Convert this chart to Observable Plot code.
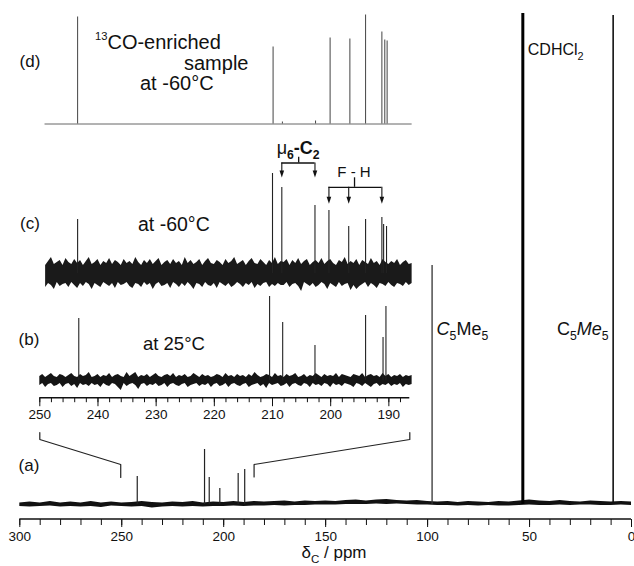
<!DOCTYPE html>
<html><head><meta charset="utf-8">
<script src="https://cdn.jsdelivr.net/npm/d3@7"></script>
<script src="https://cdn.jsdelivr.net/npm/@observablehq/plot@0.6"></script>
<style>
html,body{margin:0;padding:0;background:#fff;overflow:hidden}
#chart{position:relative;width:634px;height:566px;font-family:"Liberation Sans",Arial,Helvetica,sans-serif;color:#111}
#chart svg{position:absolute;left:0;top:0}
</style></head><body><div id="chart"></div>
<script>
// ---------- tick labels ----------
const mainTicks = [300, 250, 200, 150, 100, 50, 0];
const mainMinorTicks = [300,290,280,270,260,250,240,230,220,210,200,190,180,170,160,150,140,130,120,110,100,90,80,70,60,50,40,30,20,10,0];
const insetTicks = [250, 240, 230, 220, 210, 200, 190];
const insetMinorTicks = [250,248,246,244,242,240,238,236,234,232,230,228,226,224,222,220,218,216,214,212,210,208,206,204,202,200,198,196,194,192,190,188];

// ---------- (a) full spectrum ----------
const aPeakPpm    = [242.4, 209.4, 207.1, 201.9, 192.9, 189.7, 97.8, 53.3, 9.0];
const aPeakHeight = [28, 55, 27, 16, 31, 35, 239, 491, 489];
const aPeakKind   = ["CO","CO","CO","CO","CO","CO","ring","solvent","methyl"];
const aNoisePpm = [300,295,290,285,280,275,270,265,260,255,250,245,240,235,230,225,220,215,210,205,200,195,190,185,180,175,170,165,160,155,150,145,140,135,130,125,120,115,110,105,100,95,90,85,80,75,70,65,60,55,50,45,40,35,30,25,20,15,10,5,0];
const aNoiseHi = [1.5,2.5,1.5,3,1.5,2.5,1.5,3,1.5,2.5, 1.5,2,3,2,1.5,2.5,2,3,1.5,2.5, 2,3,2,3,2.5,3,3.5,2.5,3.5,3, 3.5,3,4,4.5,3.5,4.5,5,4,3.5,4, 3,2.5,3,2,3,2.5,2,3,2.5,3.5, 4.5,3.5,3,4,3,2.5,3.5,3,2.5,3,2.5];
const aNoiseLo = [-2,-2.5,-2,-1.5,-2.5,-2,-2.5,-2,-3,-1.5, -2,-2.5,-2,-3.5,-2.5,-2,-2.5,-2,-2.5,-2, -2,-1.5,-2,-1.5,-1.5,-1,-1.5,-1,-1,-0.5, -0.5,-0.5,0,0,0,0.5,0,0.5,0,-0.5, -0.5,-1,-1,-1.5,-1,-1.5,-1,-1.5,-1.5,-1, -0.5,-1,-1,-0.5,-1,-0.5,-0.5,-1,-1,-0.5,-1];
const zoomRangeInA = [250.5, 185.1];   // ends of the expanded region marked on (a)

// ---------- expanded spectra (b), (c), (d) ----------
const insetNoisePpm = [250,249.5,249,248.5,248,247.5,247,246.5,246,245.5,245,244.5,244,243.5,243,242.5,242,241.5,241,240.5,240,239.5,239,238.5,238,237.5,237,236.5,236,235.5,235,234.5,234,233.5,233,232.5,232,231.5,231,230.5,230,229.5,229,228.5,228,227.5,227,226.5,226,225.5,225,224.5,224,223.5,223,222.5,222,221.5,221,220.5,220,219.5,219,218.5,218,217.5,217,216.5,216,215.5,215,214.5,214,213.5,213,212.5,212,211.5,211,210.5,210,209.5,209,208.5,208,207.5,207,206.5,206,205.5,205,204.5,204,203.5,203,202.5,202,201.5,201,200.5,200,199.5,199,198.5,198,197.5,197,196.5,196,195.5,195,194.5,194,193.5,193,192.5,192,191.5,191,190.5,190,189.5,189,188.5,188,187.5,187,186.5,186];

const bPeakPpm    = [243.3, 210.5, 208.25, 202.7, 194.0, 191.0, 190.5];
const bPeakHeight = [62, 84, 58, 35, 65, 43, 74];
const bNoiseHi = [4,6,3,5,7,4,3,6,5,3, 5,7,4,3,6,4,5,8,3,4, 6,3,5,4,7,3,5,6,4,3, 8,4,6,8,3,5,4,6,3,5, 7,4,3,5,6,4,7,3,5,4, 6,3,4,7,5,3,6,4,5,3, 4,6,5,3,7,4,5,3,6,4, 5,3,6,4,8,5,3,4,6,5, 3,7,4,5,3,6,4,5,7,3, 4,6,3,5,4,7,5,3,6,4, 5,4,7,3,6,5,4,3,6,5, 4,7,3,5,6,4,5,3,7,4, 6,3,5,4,6,3,5,4,5];
const bNoiseLo = [-5,-3,-7,-4,-3,-6,-5,-3,-7,-4, -3,-6,-4,-8,-3,-5,-4,-6,-3,-5, -4,-7,-3,-5,-6,-3,-4,-7,-10,-3, -6,-4,-3,-5,-9,-4,-3,-6,-4,-5, -3,-6,-5,-3,-7,-4,-3,-5,-6,-4, -3,-7,-5,-4,-3,-6,-4,-5,-3,-7, -4,-3,-6,-5,-3,-7,-4,-3,-5,-6, -4,-3,-7,-5,-4,-3,-6,-4,-8,-3, -5,-4,-3,-6,-5,-3,-7,-4,-3,-5, -6,-3,-4,-7,-3,-5,-4,-6,-3,-4, -7,-3,-5,-4,-6,-3,-4,-5,-7,-3, -4,-6,-3,-5,-7,-4,-3,-6,-4,-5, -3,-6,-4,-5,-3,-7,-4,-5,-4];

const cPeakPpm    = [243.5, 210.0, 208.4, 202.7, 200.3, 196.9, 194.0, 191.2, 190.9, 190.4];
const cPeakHeight = [54, 100, 86, 68, 63, 47, 54, 56, 49, 47];
const cNoiseHi = [10,14,8,12,16,9,11,13,8,15, 11,9,14,10,13,8,12,16,9,11, 14,8,12,10,15,9,13,11,8,14, 10,12,9,16,11,8,13,10,14,9, 12,15,8,11,13,9,14,10,12,8, 16,10,13,9,11,14,8,12,15,10, 9,13,11,8,14,10,12,16,9,11, 13,8,12,15,10,9,14,11,8,13, 10,16,9,12,11,14,8,13,10,15, 9,12,14,8,11,13,10,15,9,12, 14,10,8,13,11,16,9,12,10,14, 8,13,11,9,15,10,12,8,14,11, 9,12,10,14,8,11,13,9,10];
const cNoiseLo = [-11,-9,-14,-10,-12,-16,-9,-13,-11,-10, -14,-9,-12,-15,-10,-13,-9,-11,-16,-10, -12,-14,-9,-11,-13,-10,-15,-9,-12,-11, -9,-13,-15,-10,-11,-14,-9,-12,-10,-16, -11,-9,-13,-12,-10,-15,-9,-11,-14,-10, -13,-9,-12,-16,-10,-11,-14,-9,-12,-13, -10,-15,-9,-11,-13,-10,-14,-12,-9,-11, -14,-10,-12,-9,-15,-11,-13,-10,-9,-14, -11,-13,-10,-12,-12,-9,-14,-11,-10,-13, -18,-9,-11,-13,-10,-14,-12,-9,-11,-16, -10,-12,-14,-9,-13,-11,-10,-17,-12,-16, -13,-11,-9,-14,-10,-12,-15,-10,-11,-13, -9,-12,-14,-10,-11,-13,-9,-12,-10];
const muArrowPpm = [208.4, 202.7];          // μ6-C2 assignment
const muStemPpm  = [205.5];
const fhArrowPpm = [200.3, 196.9, 191.2];   // F - H assignment
const fhStemPpm  = [195.9];

const dPeakPpm    = [243.5, 209.9, 208.3, 202.6, 200.1, 196.7, 194.0, 191.2, 190.7, 190.3];
const dPeakHeight = [107, 77, 2, 3, 86, 85, 109, 92, 84, 83];
const dTraceRange = [249.1, 186.0];

// ---------- layout ----------
const W = 634, H = 566;
const mainXRange = [19.3, 631], mainAxisY = 519, aBase = 504;
const insetDomain = [250, 186.4], insetXRange = [39.3, 409.3], insetAxisY = 397.7;
const bBase = 380, cBase = 273, dBase = 123.5;
const font = '"Liberation Sans", Arial, Helvetica, sans-serif';
const svgStyle = {background: "transparent", overflow: "visible", fontFamily: font};

const xMain = Plot.scale({x: {domain: [300, 0], range: mainXRange}});
const xIns  = Plot.scale({x: {domain: insetDomain, range: insetXRange}});

const rows = (ppm, a, b) => ppm.map((p, i) => ({ppm: p, lo: a[i], hi: b[i]}));
const peaks = (ppm, h) => ppm.map((p, i) => ({ppm: p, h: h[i]}));

const chart = document.getElementById("chart");

// ---- main plot (a) ----
const aPeaks = aPeakPpm.map((p, i) => ({ppm: p, h: aPeakHeight[i], kind: aPeakKind[i]}));
const leftBracket = [
  {ppm: xMain.invert(xIns.apply(insetDomain[0])), h: 72},
  {ppm: xMain.invert(xIns.apply(insetDomain[0])), h: 65},
  {ppm: zoomRangeInA[0], h: 40},
  {ppm: zoomRangeInA[0], h: 27}
];
const rightBracket = [
  {ppm: xMain.invert(xIns.apply(insetDomain[1])), h: 72},
  {ppm: xMain.invert(xIns.apply(insetDomain[1])), h: 65},
  {ppm: zoomRangeInA[1], h: 40},
  {ppm: zoomRangeInA[1], h: 27.5}
];
const mainPlot = Plot.plot({
  width: W, height: H,
  marginLeft: mainXRange[0], marginRight: W - mainXRange[1], marginTop: 0, marginBottom: H - mainAxisY,
  x: {domain: [300, 0], range: mainXRange},
  y: {domain: [0, 500], range: [aBase, aBase - 500], axis: null},
  style: svgStyle,
  marks: [
    Plot.areaY(rows(aNoisePpm, aNoiseLo, aNoiseHi), {x: "ppm", y1: "lo", y2: "hi", fill: "#111"}),
    Plot.ruleX(aPeaks.filter(d => d.kind === "CO"), {x: "ppm", y1: 0, y2: "h", stroke: "#222", strokeWidth: 1.2}),
    Plot.ruleX(aPeaks.filter(d => d.kind === "ring"), {x: "ppm", y1: 0, y2: "h", stroke: "#333", strokeWidth: 1.3}),
    Plot.ruleX(aPeaks.filter(d => d.kind === "solvent"), {x: "ppm", y1: 0, y2: "h", stroke: "#000", strokeWidth: 3}),
    Plot.ruleX(aPeaks.filter(d => d.kind === "methyl"), {x: "ppm", y1: 0, y2: "h", stroke: "#111", strokeWidth: 1.6}),
    Plot.line(leftBracket, {x: "ppm", y: "h", stroke: "#222", strokeWidth: 1.2}),
    Plot.line(rightBracket, {x: "ppm", y: "h", stroke: "#222", strokeWidth: 1.2}),
    Plot.axisX({ticks: mainMinorTicks, tickSize: 6, tickFormat: () => "", label: null}),
    Plot.axisX({ticks: mainTicks, tickSize: 8, tickPadding: 4, fontSize: 13.5, label: null})
  ]
});
chart.appendChild(mainPlot);

function insetPlot(base, marks, withAxis) {
  return Plot.plot({
    width: W, height: H,
    marginLeft: insetXRange[0], marginRight: W - insetXRange[1], marginTop: 0, marginBottom: H - insetAxisY,
    x: withAxis ? {domain: insetDomain, range: insetXRange} : {domain: insetDomain, range: insetXRange, axis: null},
    y: {domain: [0, 200], range: [base, base - 200], axis: null},
    style: svgStyle,
    marks
  });
}

// ---- (b) ----
chart.appendChild(insetPlot(bBase, [
  Plot.areaY(rows(insetNoisePpm, bNoiseLo, bNoiseHi), {x: "ppm", y1: "lo", y2: "hi", fill: "#151515"}),
  Plot.ruleX(peaks(bPeakPpm, bPeakHeight), {x: "ppm", y1: 0, y2: "h", stroke: "#222", strokeWidth: 1.1}),
  Plot.axisX({ticks: insetMinorTicks, tickSize: 4.5, tickFormat: () => "", label: null}),
  Plot.axisX({ticks: insetTicks, tickSize: 8.5, tickPadding: 3, fontSize: 13.5, label: null})
], true));

// ---- (c) ----
const arrowHead = {draw(ctx) { ctx.moveTo(0, 0); ctx.lineTo(-2.3, -7); ctx.lineTo(2.3, -7); ctx.closePath(); }};
const muLevel = 110.5, muTop = 116.3, muTip = 96;
const fhLevel = 86.2, fhTop = 95.7, fhTip = 69.7;
chart.appendChild(insetPlot(cBase, [
  Plot.areaY(rows(insetNoisePpm.slice(2), cNoiseLo.slice(2), cNoiseHi.slice(2)), {x: "ppm", y1: "lo", y2: "hi", fill: "#1a1a1a"}),
  Plot.ruleX(peaks(cPeakPpm, cPeakHeight), {x: "ppm", y1: 0, y2: "h", stroke: "#222", strokeWidth: 1.1}),
  Plot.ruleY([muLevel], {x1: muArrowPpm[0], x2: muArrowPpm[muArrowPpm.length - 1], stroke: "#111", strokeWidth: 1.3}),
  Plot.ruleX(muStemPpm, {y1: muLevel, y2: muTop, stroke: "#111", strokeWidth: 1.3}),
  Plot.ruleX(muArrowPpm, {y1: muLevel, y2: muTip + 3, stroke: "#111", strokeWidth: 1.1}),
  Plot.dot(muArrowPpm, {x: d => d, y: muTip, symbol: arrowHead, fill: "#111", stroke: "none"}),
  Plot.ruleY([fhLevel], {x1: fhArrowPpm[0], x2: fhArrowPpm[fhArrowPpm.length - 1], stroke: "#111", strokeWidth: 1.3}),
  Plot.ruleX(fhStemPpm, {y1: fhLevel, y2: fhTop, stroke: "#111", strokeWidth: 1.3}),
  Plot.ruleX(fhArrowPpm, {y1: fhLevel, y2: fhTip + 3, stroke: "#111", strokeWidth: 1.1}),
  Plot.dot(fhArrowPpm, {x: d => d, y: fhTip, symbol: arrowHead, fill: "#111", stroke: "none"})
], false));

// ---- (d) ----
chart.appendChild(insetPlot(dBase, [
  Plot.ruleY([0], {x1: dTraceRange[0], x2: dTraceRange[1], stroke: "#666", strokeWidth: 1}),
  Plot.ruleX(peaks(dPeakPpm, dPeakHeight), {x: "ppm", y1: 0, y2: "h", stroke: "#444", strokeWidth: 1})
], false));

// ---- axis lines and rich-text labels ----
const svg = d3.select(chart).append("svg").attr("width", W).attr("height", H)
  .style("font-family", font).style("overflow", "visible");
svg.append("line").attr("x1", xMain.apply(300)).attr("x2", xMain.apply(0))
  .attr("y1", mainAxisY).attr("y2", mainAxisY).attr("stroke", "#111").attr("stroke-width", 1.5);
svg.append("line").attr("x1", xIns.apply(insetDomain[0])).attr("x2", xIns.apply(insetDomain[1]))
  .attr("y1", insetAxisY).attr("y2", insetAxisY).attr("stroke", "#111").attr("stroke-width", 1.4);

function rich(x, y, parts, size, anchor = "start") {
  const t = svg.append("text").attr("x", x).attr("y", y).attr("font-size", size)
    .attr("text-anchor", anchor).attr("fill", "#111");
  let shift = 0;
  for (const p of parts) {
    const target = p.sub ? size * 0.3 : p.sup ? -size * 0.45 : 0;
    const ts = t.append("tspan").text(p.t).attr("dy", target - shift);
    shift = target;
    if (p.sub) ts.attr("font-size", size * 0.68);
    if (p.sup) ts.attr("font-size", size * 0.56);
    if (p.i) ts.attr("font-style", "italic");
    if (p.b) ts.attr("font-weight", "bold");
  }
}
rich(30, 66.5, [{t: "(d)"}], 17, "middle");
rich(30, 228.5, [{t: "(c)"}], 17, "middle");
rich(29, 344.5, [{t: "(b)"}], 17, "middle");
rich(29, 470.5, [{t: "(a)"}], 17, "middle");
rich(95, 49, [{t: "13", sup: true}, {t: "CO-enriched"}], 20);
rich(184, 70, [{t: "sample"}], 20);
rich(140, 90, [{t: "at -60°C"}], 20);
rich(138, 231, [{t: "at -60°C"}], 19.5);
rich(143, 350, [{t: "at 25°C"}], 18.5);
rich(xMain.apply(97.8) + 5, 335, [{t: "C", i: true}, {t: "5", sub: true}, {t: "Me"}, {t: "5", sub: true}], 18);
rich(xMain.apply(9.0) - 4, 335, [{t: "C"}, {t: "5", sub: true}, {t: "Me", i: true}, {t: "5", sub: true}], 18, "end");
rich(xMain.apply(53.3) + 5.5, 55, [{t: "CDHCl"}, {t: "2", sub: true}], 16);
rich(334, 558, [{t: "δ"}, {t: "C", sub: true}, {t: " / ppm"}], 17, "middle");
rich(xIns.apply(muStemPpm[0]), 154, [{t: "μ"}, {t: "6", sub: true, b: true}, {t: "-C", b: true}, {t: "2", sub: true, b: true}], 18, "middle");
rich(xIns.apply(fhStemPpm[0]), 177, [{t: "F - H"}], 15, "middle");
</script></body></html>
